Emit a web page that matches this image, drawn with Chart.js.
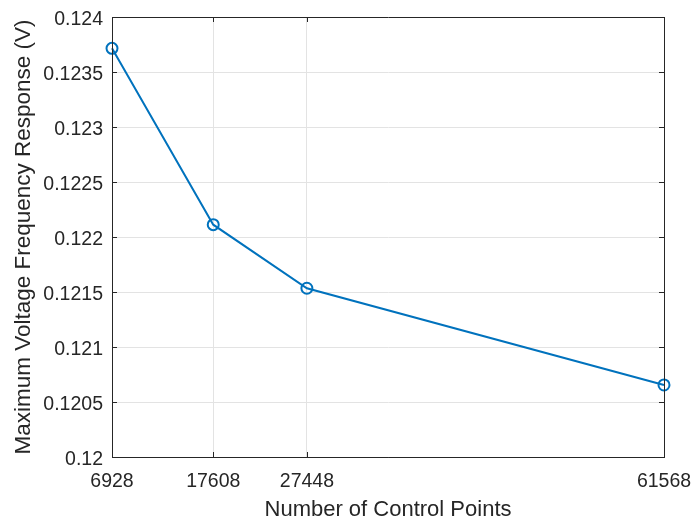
<!DOCTYPE html>
<html>
<head>
<meta charset="utf-8">
<script src="https://cdn.jsdelivr.net/npm/chart.js@4"></script>
<style>
  body { margin: 0; background: #fff; }
</style>
</head>
<body>
<canvas id="chart" width="694" height="520"></canvas>
<script>
// tick labels on the x axis and where they sit along it
const controlPointLabels = ['6928', '17608', '27448', '61568'];
const axisPositions = [6928, 16950, 26220, 61568];
// maximum voltage frequency response (V)
const voltage = [0.123715, 0.122112, 0.121534, 0.120655];
const yTicks = [0.12, 0.1205, 0.121, 0.1215, 0.122, 0.1225, 0.123, 0.1235, 0.124];

const axisColor = '#262626';
const gridColor = '#e3e3e3';
const font = 'Liberation Sans, Arial, Helvetica, sans-serif';

// MATLAB-style box with ticks pointing inwards
const boxPlugin = {
  id: 'box',
  afterDatasetsDraw(chart) {
    const {ctx, chartArea: a, scales} = chart;
    ctx.save();
    ctx.strokeStyle = axisColor;
    ctx.lineWidth = 1;
    ctx.beginPath();
    ctx.rect(a.left + 0.5, a.top + 0.5, a.right - a.left, a.bottom - a.top);
    const len = 5;
    axisPositions.forEach(v => {
      const x = Math.round(scales.x.getPixelForValue(v)) + 0.5;
      ctx.moveTo(x, a.bottom); ctx.lineTo(x, a.bottom - len);
      ctx.moveTo(x, a.top); ctx.lineTo(x, a.top + len);
    });
    yTicks.forEach(v => {
      const y = Math.round(scales.y.getPixelForValue(v)) + 0.5;
      ctx.moveTo(a.left, y); ctx.lineTo(a.left + len, y);
      ctx.moveTo(a.right, y); ctx.lineTo(a.right - len, y);
    });
    ctx.stroke();
    ctx.restore();
  }
};

new Chart(document.getElementById('chart').getContext('2d'), {
  type: 'line',
  data: {
    datasets: [{
      data: axisPositions.map((x, i) => ({x: x, y: voltage[i]})),
      borderColor: '#0072BD',
      borderWidth: 2,
      backgroundColor: 'rgba(0,0,0,0)',
      pointRadius: 5.5,
      pointBorderWidth: 2,
      pointBorderColor: '#0072BD',
      pointBackgroundColor: 'rgba(0,0,0,0)',
      tension: 0,
      clip: false
    }]
  },
  options: {
    responsive: false,
    animation: false,
    layout: { padding: { left: 0, top: 17, right: 30, bottom: 0 } },
    plugins: { legend: { display: false }, tooltip: { enabled: false } },
    scales: {
      x: {
        type: 'linear',
        min: axisPositions[0],
        max: axisPositions[axisPositions.length - 1],
        afterBuildTicks: s => { s.ticks = axisPositions.map(v => ({value: v})); },
        afterFit: s => { s.height = 63; s.paddingRight = 0; s.paddingLeft = 0; },
        ticks: {
          callback: v => controlPointLabels[axisPositions.indexOf(v)],
          color: axisColor,
          font: { family: font, size: 19.5 },
          padding: 13,
          maxRotation: 0,
          autoSkip: false
        },
        grid: { color: gridColor, drawTicks: false },
        border: { color: axisColor },
        title: {
          display: true,
          text: 'Number of Control Points',
          color: axisColor,
          font: { family: font, size: 22 },
          padding: { top: 0, bottom: -3 }
        }
      },
      y: {
        min: 0.12,
        max: 0.124,
        afterBuildTicks: s => { s.ticks = yTicks.map(v => ({value: v})); },
        afterFit: s => { s.width = 112; s.paddingTop = 0; s.paddingBottom = 0; },
        ticks: {
          callback: v => String(Number(v.toFixed(4))),
          color: axisColor,
          font: { family: font, size: 19.5 },
          padding: 9,
          labelOffset: 3
        },
        grid: { color: gridColor, drawTicks: false },
        border: { color: axisColor },
        title: {
          display: true,
          text: 'Maximum Voltage Frequency Response (V)',
          color: axisColor,
          font: { family: font, size: 22.5 },
          padding: { top: 10, bottom: 0 }
        }
      }
    }
  },
  plugins: [boxPlugin]
});
</script>
</body>
</html>
